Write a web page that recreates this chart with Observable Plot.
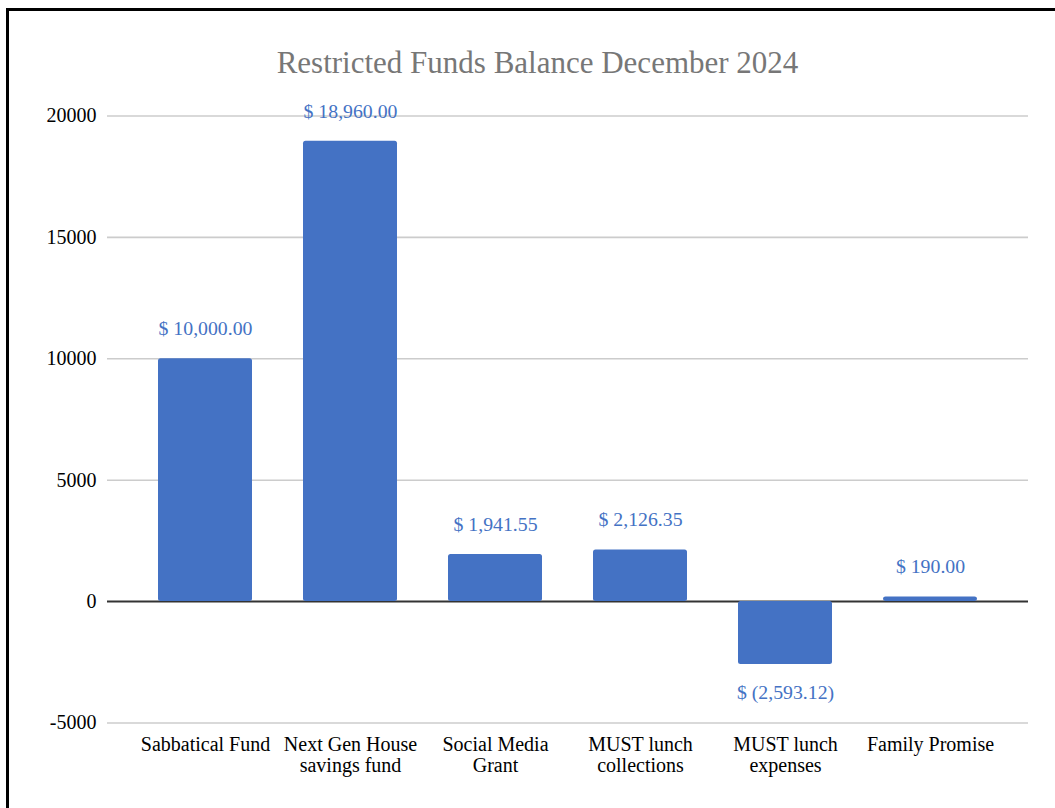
<!DOCTYPE html>
<html>
<head>
<meta charset="utf-8">
<script src="https://cdn.jsdelivr.net/npm/d3@7"></script>
<script src="https://cdn.jsdelivr.net/npm/@observablehq/plot@0.6"></script>
<style>
  html, body { margin: 0; padding: 0; background: #fff; width: 1055px; height: 808px; overflow: hidden; }
  #frame { position: absolute; left: 6px; top: 8px; width: 1100px; height: 900px; border-left: 3px solid #000; border-top: 3px solid #000; pointer-events: none; }
  #title { position: absolute; top: 47px; left: 537.5px; transform: translateX(-50%); white-space: nowrap;
           font-family: 'Liberation Serif', 'Times New Roman', serif; font-size: 31px; line-height: 31px; color: #777777; }
  #chart { position: absolute; left: 0; top: 90px; }
</style>
</head>
<body>
<div id="title">Restricted Funds Balance December 2024</div>
<div id="chart"></div>
<div id="frame"></div>
<script>
const categories = ["Sabbatical Fund", "Next Gen House savings fund", "Social Media Grant", "MUST lunch collections", "MUST lunch expenses", "Family Promise"];
const tickLabels = ["Sabbatical Fund", "Next Gen House\nsavings fund", "Social Media\nGrant", "MUST lunch\ncollections", "MUST lunch\nexpenses", "Family Promise"];
const values = [10000.00, 18960.00, 1941.55, 2126.35, -2593.12, 190.00];
const yTicks = [-5000, 0, 5000, 10000, 15000, 20000];

const data = categories.map((c, i) => ({category: c, value: values[i]}));
const fmt = d3.format(",.2f");
const money = v => v >= 0 ? "$ " + fmt(v) : "$ (" + fmt(-v) + ")";
const labelOf = new Map(categories.map((c, i) => [c, tickLabels[i]]));
const blue = "#4472C4";

const chart = Plot.plot({
  width: 1055,
  height: 718,
  marginLeft: 107,
  marginRight: 27,
  marginTop: 25.5,
  marginBottom: 85.5,
  style: {fontFamily: "'Liberation Serif', 'Times New Roman', serif", fontSize: "20px", color: "#000", background: "transparent"},
  x: {domain: categories, padding: 0.35, label: null},
  y: {domain: [-5000, 20000], label: null},
  marks: [
    Plot.ruleY(yTicks.filter(d => d !== 0), {stroke: "#cccccc", strokeWidth: 1.6}),
    Plot.ruleY([0], {stroke: "#333333", strokeWidth: 2}),
    Plot.barY(data, {x: "category", y: "value", fill: blue, rx: 2.5}),
    Plot.text(data.filter(d => d.value >= 0), {x: "category", y: "value", text: d => money(d.value), fill: blue, dy: -30, lineAnchor: "middle", fontSize: 19.8}),
    Plot.text(data.filter(d => d.value < 0), {x: "category", y: "value", text: d => money(d.value), fill: blue, dy: 28, lineAnchor: "middle", fontSize: 19.8}),
    Plot.axisY({ticks: yTicks, tickSize: 0, tickPadding: 11, tickFormat: d => String(d), label: null, fontSize: 20}),
    Plot.axisX({tickSize: 0, tickPadding: 12.5, tickFormat: d => labelOf.get(d), lineHeight: 1.08, label: null, fontSize: 20})
  ]
});
document.getElementById("chart").appendChild(chart);
</script>
</body>
</html>
